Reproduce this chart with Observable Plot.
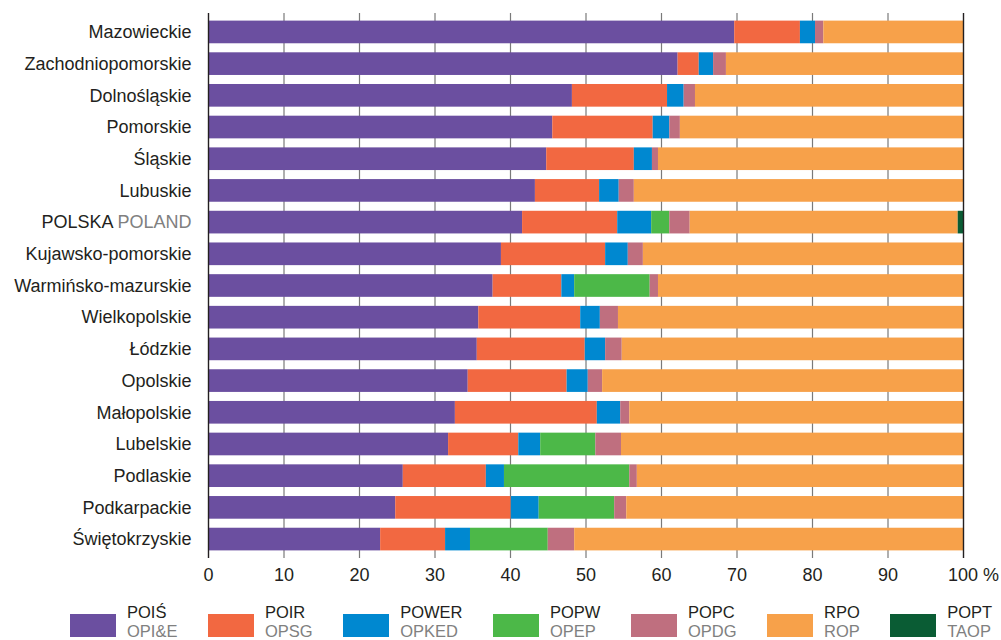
<!DOCTYPE html>
<html>
<head>
<meta charset="utf-8">
<script src="https://cdn.jsdelivr.net/npm/d3@7"></script>
<script src="https://cdn.jsdelivr.net/npm/@observablehq/plot@0.6"></script>
<style>
  body { margin: 0; background: #fff; font-family: "Liberation Sans", Arial, sans-serif; }
  #wrap { position: relative; width: 1001px; height: 640px; overflow: hidden; }
  #legend { position: absolute; top: 603px; left: 70px; display: flex; gap: 30.5px; font-size: 16.5px; line-height: 18.5px; }
  .item { display: flex; align-items: flex-start; gap: 11px; }
  .sw { width: 46px; height: 23px; margin-top: 11px; }
  .l1 { color: #231f20; }
  .l2 { color: #808080; }
</style>
</head>
<body>
<div id="wrap">
  <div id="chart"></div>
  <div id="legend"></div>
</div>
<script>
const regions = ["Mazowieckie","Zachodniopomorskie","Dolnośląskie","Pomorskie","Śląskie","Lubuskie","POLSKA POLAND","Kujawsko-pomorskie","Warmińsko-mazurskie","Wielkopolskie","Łódzkie","Opolskie","Małopolskie","Lubelskie","Podlaskie","Podkarpackie","Świętokrzyskie"];
const programs = ["POIŚ","POIR","POWER","POPW","POPC","RPO","POPT"];
const programsEn = ["OPI&E","OPSG","OPKED","OPEP","OPDG","ROP","TAOP"];
const colors = ["#6b4fa0","#f26841","#0088d0","#4cb848","#bf6f7f","#f7a14a","#0a5c34"];

const POIS  = [69.7,62.2,48.2,45.6,44.8,43.3,41.6,38.8,37.7,35.8,35.6,34.4,32.7,31.8,25.8,24.8,22.8];
const POIR  = [8.7,2.8,12.6,13.3,11.6,8.5,12.6,13.8,9.1,13.5,14.3,13.1,18.8,9.3,11.0,15.3,8.6];
const POWER = [2.0,1.9,2.2,2.2,2.4,2.6,4.5,3.0,1.7,2.6,2.7,2.8,3.1,2.9,2.4,3.7,3.3];
const POPW  = [0,0,0,0,0,0,2.4,0,10.0,0,0,0,0,7.3,16.6,10.0,10.3];
const POPC  = [1.1,1.7,1.5,1.4,0.8,2.0,2.7,2.0,1.1,2.4,2.2,1.9,1.2,3.4,1.0,1.6,3.5];
const RPO   = [18.5,31.4,35.5,37.5,40.4,43.6,35.5,42.4,40.4,45.7,45.2,47.8,44.2,45.3,43.2,44.6,51.5];
const POPT  = [0,0,0,0,0,0,0.7,0,0,0,0,0,0,0,0,0,0];
const xTicks = [0,10,20,30,40,50,60,70,80,90,100];

const series = [POIS, POIR, POWER, POPW, POPC, RPO, POPT];
const data = [];
regions.forEach((r, i) => {
  programs.forEach((p, j) => {
    data.push({region: r, program: p, value: series[j][i]});
  });
});

const chart = Plot.plot({
  width: 1001,
  height: 600,
  marginLeft: 208,
  marginRight: 38,
  marginTop: 13,
  marginBottom: 42,
  style: {fontFamily: "'Liberation Sans', Arial, sans-serif", fontSize: "18px", color: "#231f20", background: "#fff"},
  x: {domain: [0, 100], ticks: xTicks, label: null},
  y: {domain: regions, paddingInner: 0.285, paddingOuter: 0.24, round: false, label: null},
  color: {domain: programs, range: colors},
  marks: [
    Plot.ruleX(xTicks.filter(d => d > 0 && d < 100), {stroke: "#7a7a7a", strokeWidth: 1.2}),
    Plot.barX(data, {x: "value", y: "region", fill: "program"}),
    Plot.ruleX([0, 100], {stroke: "#231f20", strokeWidth: 1.4}),
    Plot.axisX({ticks: xTicks, tickSize: 0, tickPadding: 10, tickFormat: d => d === 100 ? "100 %" : String(d), fill: "#231f20"}),
    Plot.axisY({tickSize: 0, tickPadding: 17, fill: "#231f20"})
  ]
});
document.getElementById("chart").appendChild(chart);

// style POLAND in gray and offset the "100 %" label
chart.querySelectorAll("text").forEach(t => {
  if (t.textContent === "POLSKA POLAND") {
    t.textContent = "POLSKA ";
    const ts = document.createElementNS("http://www.w3.org/2000/svg", "tspan");
    ts.setAttribute("fill", "#808080");
    ts.textContent = "POLAND";
    t.appendChild(ts);
  }
  if (t.textContent === "100 %") {
    t.setAttribute("dx", "10");
  }
});

const legend = document.getElementById("legend");
programs.forEach((p, i) => {
  const item = document.createElement("div");
  item.className = "item";
  item.innerHTML = `<div class="sw" style="background:${colors[i]}"></div><div><div class="l1">${p}</div><div class="l2">${programsEn[i].replace("&","&amp;")}</div></div>`;
  legend.appendChild(item);
});
</script>
</body>
</html>
